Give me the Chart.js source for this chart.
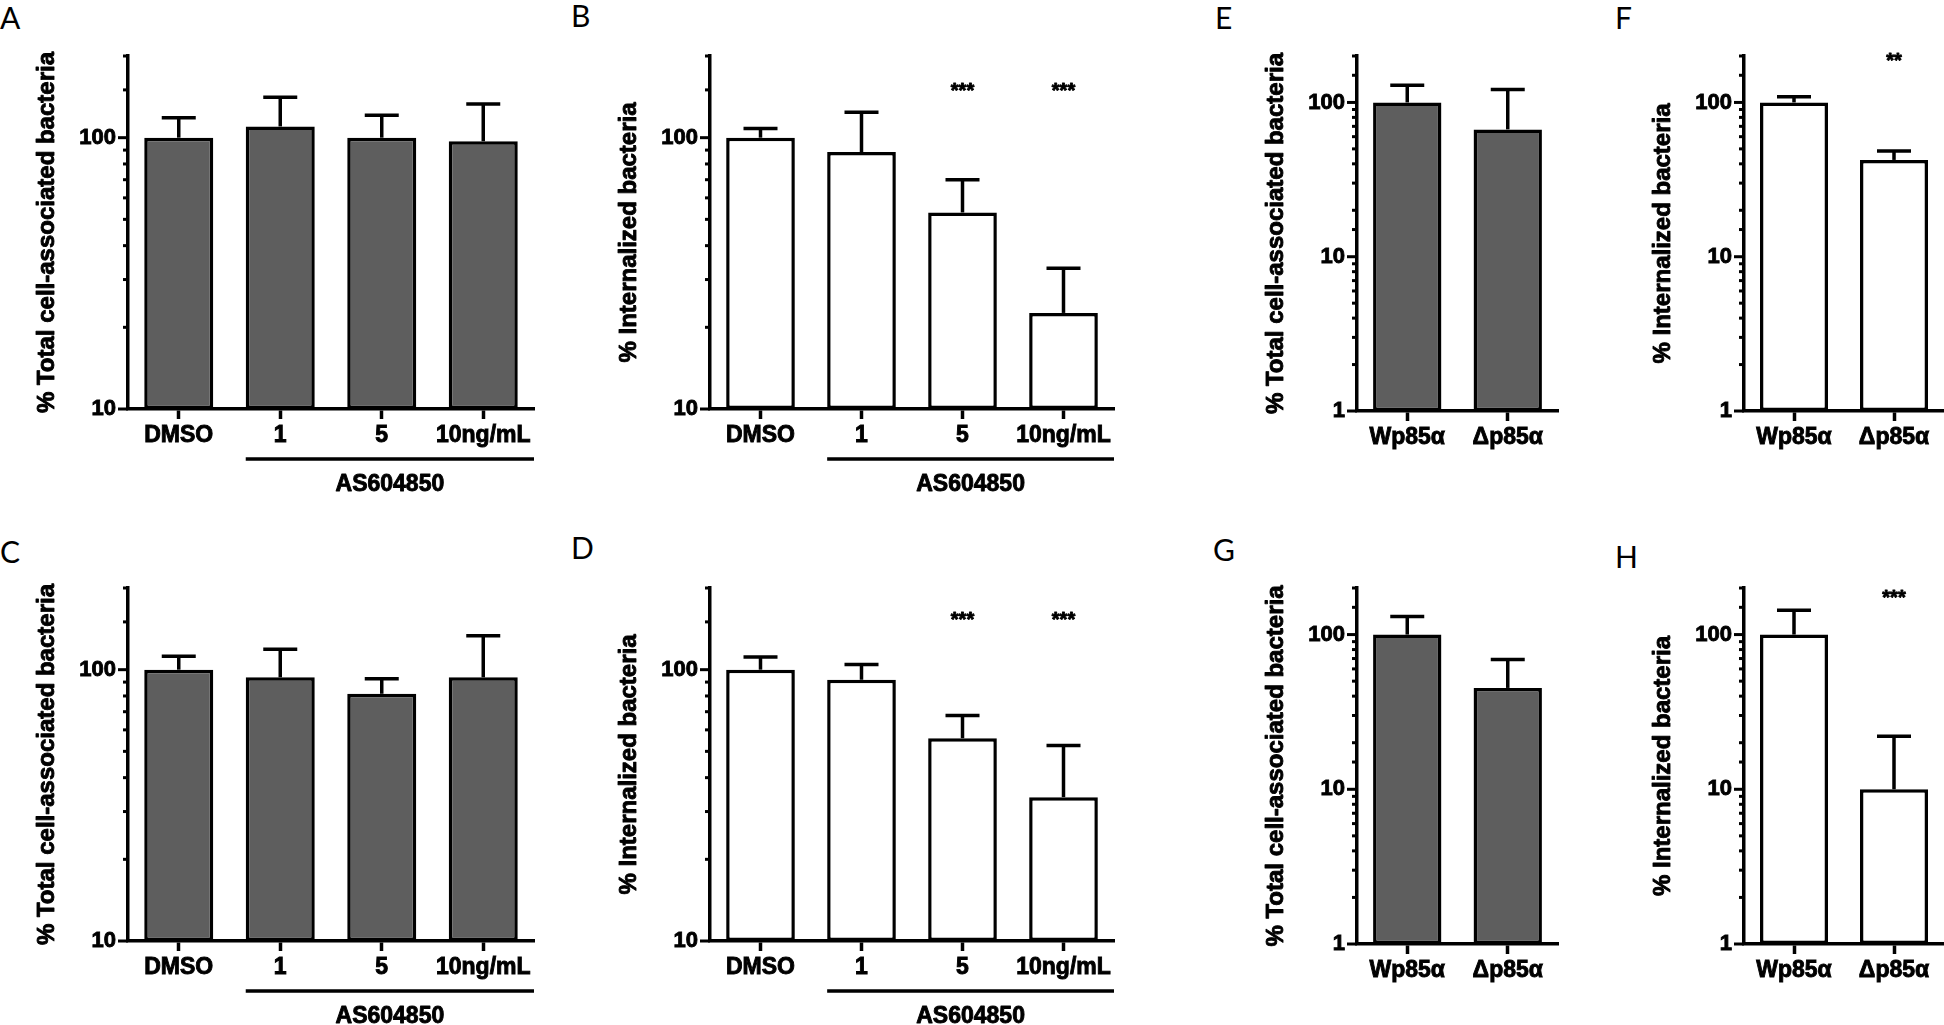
<!DOCTYPE html>
<html><head><meta charset="utf-8">
<script src="https://cdn.jsdelivr.net/npm/chart.js@4.4.1/dist/chart.umd.min.js"></script>
<style>
html,body{margin:0;padding:0;background:#fff;width:1944px;height:1025px;overflow:hidden;position:relative;}
canvas{position:absolute;}
.lbl{position:absolute;font-family:Lato,'Open Sans',sans-serif;font-size:30px;line-height:1;color:#000;}
</style></head><body>
<script>
// ---------- data ----------
const catsAS = ['DMSO', '1', '5', '10ng/mL'];
const catsP85 = ['Wp85\u03b1', '\u0394p85\u03b1'];
const groupLabel = 'AS604850';
const titleTotal = '% Total cell-associated bacteria';
const titleInt = '% Internalized bacteria';

const valsA = [100, 110, 100, 97];
const errA  = [118.5, 141, 121, 133];
const valsB = [100, 88.5, 53, 22.6];
const errB  = [108, 124, 70, 33];
const valsC = [100, 93.7, 81.5, 93.7];
const errC  = [112, 119, 92.6, 133.5];
const valsD = [100, 91.8, 55.9, 33.9];
const errD  = [111.4, 104.4, 67.8, 52.5];
const valsE = [100, 66.9];
const errE  = [129.4, 121.4];
const valsF = [100, 42.4];
const errF  = [108.8, 48.5];
const valsG = [100, 45.2];
const errG  = [131, 68.9];
const valsH = [100, 10];
const errH  = [143.7, 22];

const starsB = ['', '', '***', '***'];
const starsD = ['', '', '***', '***'];
const starsF = ['', '**'];
const starsH = ['', '***'];

// ---------- styles / layout ----------
const FONT = "'Liberation Sans', Arial, sans-serif";
const GRAY = '#5e5e5e';
const WHITE = '#ffffff';
const LW = 3.5;
const TXT_STROKE = 0.9;

const panels = [
  {letter:'A', lpos:[0,2],    cats:catsAS,  vals:valsA, errs:errA, stars:null,   starY:0,   fill:GRAY,  title:titleTotal, min:10, max:200, area:[128,56,534,409],   group:true},
  {letter:'B', lpos:[571,0],  cats:catsAS,  vals:valsB, errs:errB, stars:starsB, starY:148, fill:WHITE, title:titleInt,   min:10, max:200, area:[710,56,1114,409],  group:true},
  {letter:'E', lpos:[1215,2], cats:catsP85, vals:valsE, errs:errE, stars:null,   starY:0,   fill:GRAY,  title:titleTotal, min:1,  max:200, area:[1357,56,1558,411], group:false},
  {letter:'F', lpos:[1615,2], cats:catsP85, vals:valsF, errs:errF, stars:starsF, starY:185, fill:WHITE, title:titleInt,   min:1,  max:200, area:[1744,56,1944,411], group:false},
  {letter:'C', lpos:[0,536],  cats:catsAS,  vals:valsC, errs:errC, stars:null,   starY:0,   fill:GRAY,  title:titleTotal, min:10, max:200, area:[128,588,534,941],  group:true},
  {letter:'D', lpos:[571,532],cats:catsAS,  vals:valsD, errs:errD, stars:starsD, starY:152, fill:WHITE, title:titleInt,   min:10, max:200, area:[710,588,1114,941], group:true},
  {letter:'G', lpos:[1213,534],cats:catsP85,vals:valsG, errs:errG, stars:null,   starY:0,   fill:GRAY,  title:titleTotal, min:1,  max:200, area:[1357,588,1558,944],group:false},
  {letter:'H', lpos:[1615,541],cats:catsP85,vals:valsH, errs:errH, stars:starsH, starY:170, fill:WHITE, title:titleInt,   min:1,  max:200, area:[1744,588,1944,944],group:false}
];

function isPow10(v){ const l = Math.log10(v); return Math.abs(l - Math.round(l)) < 1e-6; }

function heavyText(ctx, s, x, y){
  ctx.fillText(s, x, y);
  ctx.lineWidth = TXT_STROKE; ctx.strokeText(s, x, y);
}

const decor = {
  id: 'decor',
  afterDraw(chart, args, o){
    const ctx = chart.ctx, ys = chart.scales.y, ca = chart.chartArea;
    const meta = chart.getDatasetMeta(0);
    ctx.save();
    ctx.strokeStyle = '#000'; ctx.fillStyle = '#000'; ctx.lineCap = 'butt'; ctx.lineJoin = 'round';
    // y-axis title
    ctx.save();
    ctx.translate(ca.left - 81, (ca.top + ca.bottom) / 2);
    ctx.rotate(-Math.PI / 2);
    ctx.font = 'bold 24px ' + FONT; ctx.textAlign = 'center'; ctx.textBaseline = 'middle';
    heavyText(ctx, o.title, 0, 0);
    ctx.restore();
    // y ticks (major/minor)
    ctx.lineWidth = 3;
    ys.ticks.forEach(t => {
      const py = ys.getPixelForValue(t.value);
      const len = isPow10(t.value) ? 10 : 5;
      ctx.beginPath(); ctx.moveTo(ca.left - len, py); ctx.lineTo(ca.left, py); ctx.stroke();
    });
    // error bars (upper)
    o.errs.forEach((e, i) => {
      const bar = meta.data[i];
      const ye = ys.getPixelForValue(e);
      ctx.lineWidth = LW;
      ctx.beginPath(); ctx.moveTo(bar.x, bar.y); ctx.lineTo(bar.x, ye); ctx.stroke();
      ctx.beginPath(); ctx.moveTo(bar.x - 17, ye); ctx.lineTo(bar.x + 17, ye); ctx.stroke();
    });
    // significance stars
    if (o.stars) {
      ctx.font = 'bold 20px ' + FONT; ctx.textAlign = 'center'; ctx.textBaseline = 'middle';
      o.stars.forEach((s, i) => { if (s) heavyText(ctx, s, meta.data[i].x, ys.getPixelForValue(o.starY)); });
    }
    // treatment group line + label
    if (o.group) {
      const b1 = meta.data[1];
      const x1 = b1.x - b1.width / 2, x2 = ca.right;
      const yl = ca.bottom + 50;
      ctx.lineWidth = LW;
      ctx.beginPath(); ctx.moveTo(x1, yl); ctx.lineTo(x2, yl); ctx.stroke();
      ctx.font = 'bold 23px ' + FONT; ctx.textAlign = 'center'; ctx.textBaseline = 'middle';
      heavyText(ctx, groupLabel, (x1 + x2) / 2, ca.bottom + 76);
    }
    ctx.restore();
  }
};

function makeChart(p){
  const yw = 100, pt = 30;
  const pr = p.area[2] >= 1944 ? 0 : 12;
  const xh = p.group ? 100 : 60;
  const L = p.area[0] - yw, T = p.area[1] - pt;
  const W = p.area[2] - p.area[0] + yw + pr, H = p.area[3] - p.area[1] + pt + xh;
  const cv = document.createElement('canvas');
  cv.width = W; cv.height = H;
  cv.style.left = L + 'px'; cv.style.top = T + 'px';
  cv.style.width = W + 'px'; cv.style.height = H + 'px';
  document.body.appendChild(cv);
  const d = document.createElement('div');
  d.className = 'lbl'; d.textContent = p.letter;
  d.style.left = p.lpos[0] + 'px'; d.style.top = p.lpos[1] + 'px';
  document.body.appendChild(d);
  new Chart(cv, {
    type: 'bar',
    data: { labels: p.cats, datasets: [{ data: p.vals, backgroundColor: p.fill, borderColor: '#000', borderWidth: LW, borderSkipped: false, barPercentage: 0.68, categoryPercentage: 1 }] },
    options: {
      responsive: false, animation: false, devicePixelRatio: 1,
      layout: { padding: { left: 0, top: pt, right: pr, bottom: 0 }, autoPadding: false },
      plugins: { legend: { display: false }, tooltip: { enabled: false },
        decor: { errs: p.errs, stars: p.stars, starY: p.starY, group: p.group, title: p.title } },
      scales: {
        x: {
          type: 'category', offset: true,
          grid: { display: true, drawOnChartArea: false, drawTicks: true, tickLength: 10, tickWidth: 3.5, tickColor: '#000', offset: false, color: 'rgba(0,0,0,0)' },
          border: { display: true, color: '#000', width: LW },
          ticks: { color: '#000', font: { family: FONT, size: 23, weight: 'bold' }, padding: 3, maxRotation: 0, autoSkip: false,
                   textStrokeColor: '#000', textStrokeWidth: TXT_STROKE },
          afterFit(s){ s.height = xh; }
        },
        y: {
          type: 'logarithmic', min: p.min, max: p.max,
          grid: { display: false, drawTicks: false },
          border: { display: true, color: '#000', width: LW },
          ticks: { autoSkip: false, color: '#000', font: { family: FONT, size: 22, weight: 'bold' }, padding: 12,
                   textStrokeColor: '#000', textStrokeWidth: TXT_STROKE,
                   callback: (v) => isPow10(v) ? String(Math.round(v)) : '' },
          title: { display: false },
          afterFit(s){ s.width = yw; }
        }
      }
    },
    plugins: [decor]
  });
}
panels.forEach(makeChart);
</script>
</body></html>
